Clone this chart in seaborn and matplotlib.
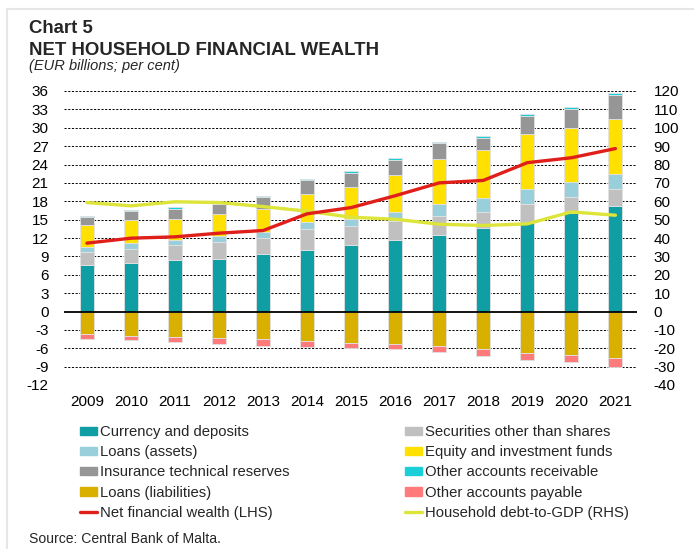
import numpy as np
import matplotlib
matplotlib.use("Agg")
import matplotlib.pyplot as plt
import matplotlib.patches as mpatches
import matplotlib.lines as mlines
import seaborn as sns

years = [str(y) for y in range(2009, 2022)]

# assets (EUR billions)
currency = [7.62, 8.0, 8.33, 8.6, 9.31, 10.07, 10.88, 11.69, 12.45, 13.6, 14.5, 16.15, 17.3]
securities = [2.07, 2.18, 2.45, 2.67, 2.72, 3.32, 3.15, 3.16, 3.15, 2.7, 3.1, 2.61, 2.77]
loans_assets = [0.92, 1.03, 0.92, 1.08, 1.03, 1.3, 1.03, 1.35, 2.0, 2.2, 2.36, 2.44, 2.39]
equity = [3.49, 3.65, 3.48, 3.6, 3.64, 4.52, 5.28, 6.1, 7.36, 7.8, 9.04, 8.8, 8.94]
insurance = [1.4, 1.57, 1.58, 1.52, 1.97, 2.18, 2.34, 2.44, 2.5, 2.1, 3.0, 3.1, 3.9]
other_rec = [0.17, 0.22, 0.27, 0.16, 0.21, 0.27, 0.27, 0.26, 0.24, 0.3, 0.25, 0.3, 0.3]
# liabilities (EUR billions, negative)
loans_liab = [-3.7, -3.92, -4.19, -4.35, -4.52, -4.84, -5.17, -5.33, -5.66, -6.09, -6.8, -7.12, -7.67]
other_pay = [-0.76, -0.71, -0.76, -0.93, -1.08, -0.93, -0.87, -0.87, -1.03, -1.25, -1.14, -1.2, -1.41]

net_wealth = [11.16, 11.97, 12.19, 12.79, 13.22, 15.95, 16.97, 18.9, 21.0, 21.4, 24.3, 25.1, 26.6]
debt_gdp = [59.3, 57.5, 59.7, 59.3, 57.1, 54.6, 51.3, 50.2, 47.5, 46.8, 47.7, 54.2, 52.4]

left_ticks = list(range(-12, 37, 3))
right_ticks = list(range(-40, 121, 10))

colors = {
    "Currency and deposits": "#0f9ea3",
    "Securities other than shares": "#c0c0c0",
    "Loans (assets)": "#98cfdb",
    "Equity and investment funds": "#ffe000",
    "Insurance technical reserves": "#969696",
    "Other accounts receivable": "#1bcfd8",
    "Loans (liabilities)": "#d9b000",
    "Other accounts payable": "#ff7a7a",
}
red = "#e01f1b"
lime = "#dde43a"

sns.set_theme(style="white")
plt.rcParams["font.family"] = ["Liberation Sans", "DejaVu Sans"]
plt.rcParams["axes.unicode_minus"] = False

fig = plt.figure(figsize=(6.94, 5.49), dpi=100)
W, H = 694, 549
ax = fig.add_axes([64 / W, 1 - 385 / H, (637 - 64) / W, (385 - 91) / H])
ax2 = ax.twinx()

x = np.arange(len(years))
bw = 0.32

pos_layers = [
    ("Currency and deposits", currency),
    ("Securities other than shares", securities),
    ("Loans (assets)", loans_assets),
    ("Equity and investment funds", equity),
    ("Insurance technical reserves", insurance),
    ("Other accounts receivable", other_rec),
]
bottom = np.zeros(len(x))
for name, vals in pos_layers:
    ax.bar(x, vals, bw, bottom=bottom, color=colors[name],
           edgecolor="#e2e2e2", linewidth=0.6, zorder=3)
    bottom += np.array(vals)

neg_layers = [
    ("Loans (liabilities)", loans_liab),
    ("Other accounts payable", other_pay),
]
bottom = np.zeros(len(x))
for name, vals in neg_layers:
    ax.bar(x, vals, bw, bottom=bottom, color=colors[name],
           edgecolor="#e2e2e2", linewidth=0.6, zorder=3)
    bottom += np.array(vals)

sns.lineplot(x=x, y=net_wealth, ax=ax, color=red, linewidth=2.4, zorder=5)
# RHS series, drawn on the LHS axes (120 <-> 36) so it sits above the bars
sns.lineplot(x=x, y=np.array(debt_gdp) * 36 / 120, ax=ax, color=lime,
             linewidth=2.4, zorder=4.5)

ax.set_xlim(-0.52, 12.49)
ax.set_ylim(-12, 36)
ax2.set_ylim(-40, 120)
ax.set_yticks(left_ticks)
ax2.set_yticks(right_ticks)
ax.set_xticks(x)
ax.set_xticklabels(years)

for a in (ax, ax2):
    for s in a.spines.values():
        s.set_visible(False)
    a.tick_params(length=0, labelsize=11, colors="black")
    a.grid(False)
ax.tick_params(axis="y", pad=11)
ax2.tick_params(axis="y", pad=12)
ax.tick_params(axis="x", pad=7)

for t in left_ticks:
    if t == 0:
        ax.axhline(0, color="black", linewidth=1.3, zorder=4)
    else:
        ax.axhline(t, color="black", linewidth=0.7, linestyle=(0, (2.2, 1.6)), zorder=1)

ax.set_zorder(ax2.get_zorder() + 1)
ax.patch.set_visible(False)

# titles
fig.text(29 / W, 1 - 33 / H, "Chart 5", fontsize=13.4, fontweight="bold", va="baseline")
fig.text(29 / W, 1 - 55 / H, "NET HOUSEHOLD FINANCIAL WEALTH", fontsize=13.4,
         fontweight="bold", va="baseline")
fig.text(29 / W, 1 - 70 / H, "(EUR billions; per cent)", fontsize=10.5,
         style="italic", va="baseline")
fig.text(29 / W, 1 - 543 / H, "Source: Central Bank of Malta.", fontsize=10.1, va="baseline")

# legend
def patch(name):
    return mpatches.Patch(color=colors[name], label=name)

col1 = [patch("Currency and deposits"), patch("Loans (assets)"),
        patch("Insurance technical reserves"), patch("Loans (liabilities)"),
        mlines.Line2D([], [], color=red, linewidth=2.4, label="Net financial wealth (LHS)")]
col2 = [patch("Securities other than shares"), patch("Equity and investment funds"),
        patch("Other accounts receivable"), patch("Other accounts payable"),
        mlines.Line2D([], [], color=lime, linewidth=2.4, label="Household debt-to-GDP (RHS)")]

leg_kw = dict(frameon=False, fontsize=10.7, handlelength=1.15, handleheight=0.48,
              handletextpad=0.2, labelspacing=0.42, borderpad=0, borderaxespad=0,
              loc="upper left")
fig.legend(handles=col1, bbox_to_anchor=(80 / W, 1 - 425 / H), **leg_kw)
fig.legend(handles=col2, bbox_to_anchor=(405 / W, 1 - 425 / H), **leg_kw)

# light frame lines
fig.add_artist(mlines.Line2D([7 / W, 7 / W], [0, 1 - 9 / H], color="#e6e6e6",
                             linewidth=1.5, transform=fig.transFigure))
fig.add_artist(mlines.Line2D([7 / W, 1], [1 - 9 / H, 1 - 9 / H], color="#e6e6e6",
                             linewidth=1.5, transform=fig.transFigure))

fig.savefig("out.png", dpi=100)
